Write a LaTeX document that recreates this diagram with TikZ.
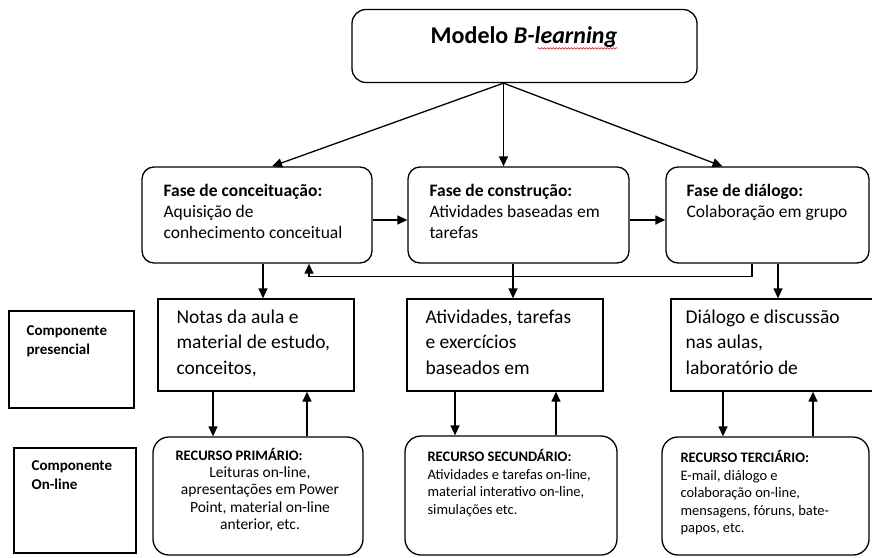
\documentclass[tikz,border=0pt]{standalone}
\usepackage{fontspec}
\setmainfont{Carlito}
\usetikzlibrary{arrows.meta}
\usetikzlibrary{decorations.pathmorphing}

\begin{document}
\begin{tikzpicture}[x=1pt,y=-1pt]

\tikzset{
    caixa/.style = {
    draw, line width=1.3pt, inner sep=0pt
    }
}

\tikzstyle{fase}=[caixa, rounded corners=12pt, minimum height=96pt]
\tikzstyle{presencial}=[caixa, minimum height=92pt]
\tikzstyle{recurso}=[caixa, rounded corners=16pt]
\tikzstyle{rotulo}=[caixa, line width=1.1pt]
\tikzstyle{seta}=[line width=1.3pt, -{Triangle[length=10pt,width=9pt]}]
\tikzstyle{txtfase}=[inner sep=0pt, anchor=north west, align=left, font=\fontsize{17.5}{21}\selectfont]
\tikzstyle{txtpres}=[inner sep=0pt, anchor=north west, align=left, font=\fontsize{19.5}{25.5}\selectfont]
\tikzstyle{txtrec}=[inner sep=0pt, anchor=north west, align=left, font=\fontsize{14.5}{17.5}\selectfont]
\tikzstyle{txtrot}=[inner sep=0pt, anchor=north west, align=left, font=\bfseries\fontsize{15}{19}\selectfont]

\useasboundingbox (0,0) rectangle (872,557);
\clip (0,0) rectangle (872,557);

% modelo
\node (modelo) [caixa, rounded corners=14pt, minimum width=345pt, minimum height=73pt] at (524.5,46) {};
\node (titulo) [inner sep=0pt] at (524,37) {\bfseries\fontsize{24}{29}\selectfont Modelo \textit{B-learning}};
\draw[red, line width=0.5pt, decorate, decoration={snake, amplitude=0.8pt, segment length=3pt}] ([shift={(-80,5)}]titulo.base east) -- ([shift={(0,5)}]titulo.base east);

% fases
\node (conc) [fase, minimum width=230pt] at (257,215) {};
\node (constr) [fase, minimum width=221pt] at (518.5,215) {};
\node (dial) [fase, minimum width=203pt] at (767.5,215) {};

\node (tconc) [txtfase] at ([shift={(22,18)}]conc.north west) {\textbf{Fase de conceituação:}\\Aquisição de\\conhecimento conceitual};
\node (tconstr) [txtfase] at ([shift={(22,18)}]constr.north west) {\textbf{Fase de construção:}\\Atividades baseadas em\\tarefas};
\node (tdial) [txtfase] at ([shift={(21,18)}]dial.north west) {\textbf{Fase de diálogo:}\\Colaboração em grupo};

% componente presencial
\node (notas) [presencial, minimum width=196pt] at (256,345) {};
\node (ativ) [presencial, minimum width=196pt] at (505,345) {};
\node (discus) [presencial, minimum width=209pt] at (775.5,345) {};

\node (tnotas) [txtpres] at ([shift={(19,11)}]notas.north west) {Notas da aula e\\material de estudo,\\conceitos,};
\node (tativ) [txtpres] at ([shift={(19,11)}]ativ.north west) {Atividades, tarefas\\e exercícios\\baseados em};
\node (tdiscus) [txtpres] at ([shift={(15,11)}]discus.north west) {Diálogo e discussão\\nas aulas,\\laboratório de};

% rotulos
\node (compres) [rotulo, minimum width=125pt, minimum height=97pt] at (71.5,359.5) {};
\node (componl) [rotulo, minimum width=122pt, minimum height=105pt] at (75,500.5) {};
\node (tcompres) [txtrot] at ([shift={(18,15)}]compres.north west) {Componente\\presencial};
\node (tcomponl) [txtrot] at ([shift={(18,13)}]componl.north west) {Componente\\On-line};

% recursos
\node (prim) [recurso, minimum width=210pt, minimum height=118pt] at (258,496) {};
\node (sec) [recurso, minimum width=212pt, minimum height=119pt] at (511,495.5) {};
\node (terc) [recurso, minimum width=207pt, minimum height=118pt] at (765.5,496) {};

\node (tprim) [txtrec] at ([shift={(23,12)}]prim.north west) {\textbf{RECURSO PRIMÁRIO:}};
\node (tprimb) [txtrec, anchor=north, align=center, font=\fontsize{15.5}{17.5}\selectfont] at ([shift={(2,30)}]prim.north) {Leituras on-line,\\apresentações em Power\\Point, material on-line\\anterior, etc.};
\node (tsec) [txtrec] at ([shift={(23,14)}]sec.north west) {\textbf{RECURSO SECUNDÁRIO:}\\Atividades e tarefas on-line,\\material interativo on-line,\\simulações etc.};
\node (tterc) [txtrec] at ([shift={(19,14)}]terc.north west) {\textbf{RECURSO TERCIÁRIO:}\\E-mail, diálogo e\\colaboração on-line,\\mensagens, fóruns, bate-\\papos, etc.};

% setas
\coordinate (saida) at ([xshift=-21]modelo.south);
\draw[seta] (saida) -- ([xshift=15]conc.north);
\draw[seta] (saida) -- (saida |- constr.north);
\draw[seta] (saida) -- ([xshift=-45]dial.north);

\draw[seta] ([yshift=-5pt]conc.east) -- ([yshift=-5pt]constr.west);
\draw[seta] ([yshift=-5pt]constr.east) -- ([yshift=-5pt]dial.west);
\draw[seta] ([xshift=-15.5]dial.south) -- ++(0,13) -| ([xshift=52]conc.south);

\draw[seta] ([xshift=6]conc.south) -- ([xshift=6]conc.south |- notas.north);
\draw[seta] ([xshift=-5.5]constr.south) -- ([xshift=-5.5]constr.south |- ativ.north);
\draw[seta] ([xshift=10.5]dial.south) -- ([xshift=10.5]dial.south |- discus.north);

\draw[seta] ([xshift=-43]notas.south) -- ([xshift=-43]notas.south |- prim.north);
\draw[seta] ([xshift=51]notas.south |- prim.north) -- ([xshift=51]notas.south);
\draw[seta] ([xshift=-50]ativ.south) -- ([xshift=-50]ativ.south |- sec.north);
\draw[seta] ([xshift=51]ativ.south |- sec.north) -- ([xshift=51]ativ.south);
\draw[seta] ([xshift=-52.5]discus.south) -- ([xshift=-52.5]discus.south |- terc.north);
\draw[seta] ([xshift=37.5]discus.south |- terc.north) -- ([xshift=37.5]discus.south);

\end{tikzpicture}
\end{document}
